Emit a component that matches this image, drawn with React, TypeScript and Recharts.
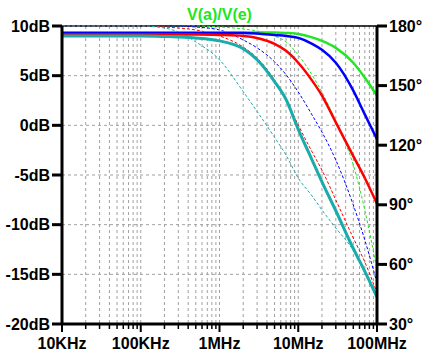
import { CartesianGrid, ComposedChart, Line, ReferenceLine, XAxis, YAxis } from "recharts";

const FONT = '"Liberation Sans", Arial, sans-serif';
const GREEN = "#22e622";
const BLUE = "#0000ff";
const RED = "#ff0000";
const TEAL = "#1aabab";
const GRID = "#a0a0a0";

// sweep frequencies (Hz)
const FREQS = [1e4, 2e4, 5e4, 1e5, 2e5, 3e5, 5e5, 1e6, 2e6, 3e6, 5e6, 7e6, 1e7, 1.5e7, 2e7, 3e7, 5e7, 7e7, 1e8];

// magnitude, dB (left axis)
const MAG_GREEN = [9.35, 9.35, 9.35, 9.35, 9.35, 9.35, 9.35, 9.35, 9.35, 9.35, 9.35, 9.3, 9.2, 8.85, 8.5, 7.8, 6.3, 4.8, 3.0];
const MAG_BLUE = [9.3, 9.3, 9.3, 9.3, 9.3, 9.3, 9.3, 9.3, 9.3, 9.25, 9.1, 9.0, 8.8, 8.2, 7.6, 6.3, 3.5, 1.1, -1.4];
const MAG_RED = [9.15, 9.15, 9.15, 9.15, 9.15, 9.15, 9.15, 9.1, 9.0, 8.8, 8.2, 7.5, 6.3, 4.5, 3.0, 0.3, -3.1, -5.3, -7.9];
const MAG_TEAL = [9.0, 9.0, 9.0, 9.0, 8.95, 8.9, 8.8, 8.5, 7.7, 6.6, 4.4, 2.6, -0.4, -3.5, -5.7, -8.6, -12.4, -14.7, -17.3];

// phase, degrees (right axis)
const PH_GREEN = [180, 180, 180, 180, 180, 180, 180, 179.5, 178.5, 177.5, 175, 172, 165.4, 155.3, 146.8, 131.7, 110, 87.4, 57.2];
const PH_BLUE = [180, 180, 180, 180, 180, 180, 179.5, 178, 173, 169, 162, 155.5, 146.8, 135.2, 126.6, 112.5, 89.9, 72.3, 50.6];
const PH_RED = [180, 180, 180, 180, 179.5, 179, 178, 175, 169.4, 163.9, 152.8, 142.7, 130.2, 116.6, 107.5, 92.4, 73.3, 61.2, 45.6];
const PH_TEAL = [180, 180, 180, 180, 179, 177, 172, 163, 147, 137, 124, 115, 103.5, 94.4, 87.4, 78.3, 67, 56, 43];

const DB_TICKS = [-20, -15, -10, -5, 0, 5, 10];
const DEG_TICKS = [30, 60, 90, 120, 150, 180];
const DECADE_LABELS: Record<number, string> = {
  1e4: "10KHz",
  1e5: "100KHz",
  1e6: "1MHz",
  1e7: "10MHz",
  1e8: "100MHz",
};

const X_TICKS: number[] = [];
for (let e = 4; e < 8; e++) {
  for (let m = 1; m < 10; m++) X_TICKS.push(m * 10 ** e);
}
X_TICKS.push(1e8);

const data = FREQS.map((f, i) => ({
  f,
  mg: MAG_GREEN[i],
  mb: MAG_BLUE[i],
  mr: MAG_RED[i],
  mt: MAG_TEAL[i],
  pg: PH_GREEN[i],
  pb: PH_BLUE[i],
  pr: PH_RED[i],
  pt: PH_TEAL[i],
}));

function FreqTick({ x, y, payload }: { x?: number; y?: number; payload?: { value: number } }) {
  if (x == null || y == null || !payload) return null;
  const label = DECADE_LABELS[payload.value];
  return (
    <g>
      <line x1={x} x2={x} y1={y} y2={y + (label ? 8 : 5)} stroke="#000" strokeWidth={label ? 2 : 1.5} />
      {label && (
        <text x={x} y={349} textAnchor="middle" fontSize={16} fontWeight="bold" fontFamily={FONT} fill="#000">
          {label}
        </text>
      )}
    </g>
  );
}

const tickStyle = { fontSize: 16, fontWeight: "bold", fill: "#000", fontFamily: FONT };

export default function App() {
  return (
    <div style={{ position: "absolute", left: 0, top: 0, width: 423, height: 351, background: "#fff" }}>
      <div
        style={{
          position: "absolute",
          left: 62,
          width: 315,
          top: 6,
          textAlign: "center",
          color: GREEN,
          fontFamily: FONT,
          fontWeight: "bold",
          fontSize: 16,
          lineHeight: "18px",
        }}
      >
        V(a)/V(e)
      </div>
      <ComposedChart width={423} height={351} data={data} margin={{ top: 26, right: 0, bottom: 0, left: 0 }}>
        <CartesianGrid yAxisId="left" stroke={GRID} strokeDasharray="3 3" />
        <XAxis
          dataKey="f"
          type="number"
          scale="log"
          domain={[1e4, 1e8]}
          ticks={X_TICKS}
          interval={0}
          height={27}
          tickSize={0}
          tickMargin={0}
          tickLine={false}
          axisLine={{ stroke: "#000", strokeWidth: 3 }}
          tick={<FreqTick />}
          allowDataOverflow
        />
        <YAxis
          yAxisId="left"
          domain={[-20, 10]}
          ticks={DB_TICKS}
          width={62}
          tickSize={10}
          tickFormatter={(v: number) => `${v}dB`}
          tick={tickStyle}
          tickLine={{ stroke: "#000", strokeWidth: 3 }}
          axisLine={{ stroke: "#000", strokeWidth: 3 }}
        />
        <YAxis
          yAxisId="right"
          orientation="right"
          domain={[30, 180]}
          ticks={DEG_TICKS}
          width={46}
          tickSize={10}
          tickFormatter={(v: number) => `${v}°`}
          tick={tickStyle}
          tickLine={{ stroke: "#000", strokeWidth: 3 }}
          axisLine={{ stroke: "#000", strokeWidth: 3 }}
        />
        <ReferenceLine yAxisId="left" y={10} stroke="#000" strokeWidth={1.5} />

        <Line yAxisId="right" dataKey="pg" type="monotone" stroke={GREEN} strokeWidth={1} strokeDasharray="3 2" dot={false} isAnimationActive={false} />
        <Line yAxisId="right" dataKey="pb" type="monotone" stroke={BLUE} strokeWidth={1} strokeDasharray="3 2" dot={false} isAnimationActive={false} />
        <Line yAxisId="right" dataKey="pr" type="monotone" stroke={RED} strokeWidth={1} strokeDasharray="3 2" dot={false} isAnimationActive={false} />
        <Line yAxisId="right" dataKey="pt" type="monotone" stroke={TEAL} strokeWidth={1} strokeDasharray="3 2" dot={false} isAnimationActive={false} />

        <Line yAxisId="left" dataKey="mg" type="monotone" stroke={GREEN} strokeWidth={2.5} dot={false} isAnimationActive={false} />
        <Line yAxisId="left" dataKey="mb" type="monotone" stroke={BLUE} strokeWidth={2.5} dot={false} isAnimationActive={false} />
        <Line yAxisId="left" dataKey="mr" type="monotone" stroke={RED} strokeWidth={2.5} dot={false} isAnimationActive={false} />
        <Line yAxisId="left" dataKey="mt" type="monotone" stroke={TEAL} strokeWidth={3} dot={false} isAnimationActive={false} />
      </ComposedChart>
    </div>
  );
}
